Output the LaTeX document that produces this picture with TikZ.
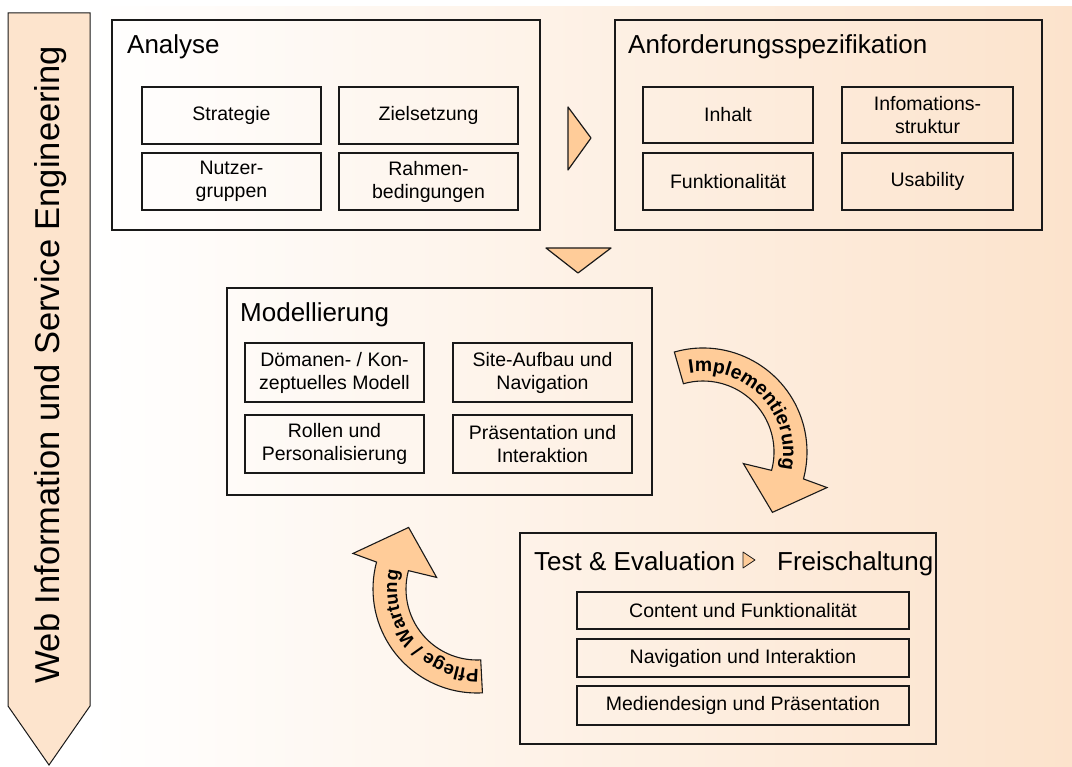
\documentclass[tikz,border=0pt]{standalone}
\usepackage{fontspec}
\setmainfont{Liberation Sans}
\usetikzlibrary{calc,decorations.text}

\definecolor{peach}{RGB}{252,227,204}
\definecolor{bannerfill}{RGB}{253,228,205}
\definecolor{arrowfill}{RGB}{255,204,153}
\definecolor{edge}{RGB}{25,25,25}

\begin{document}
\begin{tikzpicture}[x=1pt,y=-1pt,
  panel/.style={draw=edge, line width=1.4pt, inner sep=0pt},
  item/.style={draw=edge, line width=1.1pt, inner sep=0pt, align=center,
    font=\fontsize{19.5}{23}\selectfont},
  paneltitle/.style={anchor=base west, inner sep=0pt, font=\fontsize{26}{31}\selectfont},
  flowtri/.style={fill=arrowfill, draw=edge, line width=1.2pt, line join=round},
  bendarrow/.style={fill=arrowfill, draw=edge, line width=1.1pt, line join=miter},
  bendtext/.style={decorate, decoration={text along path, text align=center,
    text={#1}}},
]
\useasboundingbox (0,0) rectangle (1072,767);

% background wash
\shade[left color=white, right color=peach] (92,7) rectangle (1072,767);

% side banner
\filldraw[fill=bannerfill, draw=edge, line width=1pt]
  (8,13) -- (90,13) -- (90,706) -- (49,765) -- (8,706) -- cycle;
\node[rotate=90, inner sep=0pt, font=\fontsize{34.5}{40}\selectfont] (banner) at (51,365)
  {Web Information und Service Engineering};

% Analyse
\node[panel, minimum width=428, minimum height=210] (analyse) at (326,125) {};
\node[paneltitle] (tanalyse) at (127,54) {Analyse};
\node[item, minimum width=179, minimum height=57] (strat) at (231.5,115.5) {Strategie};
\node[item, minimum width=179, minimum height=57] (ziel) at (428.5,115.5) {Zielsetzung};
\node[item, minimum width=179, minimum height=57] (nutzer) at (231.5,181.5) {Nutzer-\\gruppen};
\node[item, minimum width=179, minimum height=57] (rahmen) at (428.5,181.5) {Rahmen-\\bedingungen};

% Anforderungsspezifikation
\node[panel, minimum width=427, minimum height=210] (anf) at (828.5,125) {};
\node[paneltitle] (tanf) at (628,54) {Anforderungsspezifikation};
\node[item, minimum width=170, minimum height=56] (inhalt) at (728,115) {Inhalt};
\node[item, minimum width=171, minimum height=56] (info) at (927.5,115) {Infomations-\\struktur};
\node[item, minimum width=170, minimum height=57] (funk) at (728,181.5) {Funktionalität};
\node[item, minimum width=171, minimum height=57] (usab) at (927.5,181.5) {Usability};

% flow triangles
\filldraw[flowtri] (568,107) -- (591,138) -- (568,170) -- cycle;
\filldraw[flowtri] (546,248) -- (611,248) -- (578,273) -- cycle;

% Modellierung
\node[panel, minimum width=425, minimum height=207] (modell) at (439.5,391.5) {};
\node[paneltitle] (tmodell) at (240,322) {Modellierung};
\node[item, minimum width=179, minimum height=59] (domaene) at (334.5,372.5) {Dömanen- / Kon-\\zeptuelles Modell};
\node[item, minimum width=179, minimum height=59] (site) at (542.5,372.5) {Site-Aufbau und\\Navigation};
\node[item, minimum width=179, minimum height=58] (rollen) at (334.5,444) {Rollen und\\Personalisierung};
\node[item, minimum width=179, minimum height=58] (praes) at (542.5,444) {Präsentation und\\Interaktion};

% Test & Evaluation
\node[panel, minimum width=416, minimum height=211] (test) at (728,638.5) {};
\node[paneltitle] (ttest) at (534,570) {Test \& Evaluation};
\coordinate (tt) at (743,552);
\filldraw[fill=arrowfill, draw=edge, line width=0.8pt, line join=round]
  (tt) -- ++(12,8) -- ++(-12,8) -- cycle;
\node[paneltitle] (tfrei) at (777,570) {Freischaltung};
\node[item, minimum width=332, minimum height=37] (content) at (743,610.5) {Content und Funktionalität};
\node[item, minimum width=332, minimum height=38] (navi) at (743,658) {Navigation und Interaktion};
\node[item, minimum width=332, minimum height=39] (medien) at (743,705.5) {Mediendesign und Präsentation};

% curved arrow: Implementierung
\coordinate (ci) at (703,452);
\filldraw[bendarrow]
  ($(ci)+(-106:104)$) arc[start angle=-106, end angle=15, radius=104]
  -- ($(ci)+(16:129)$) -- ($(ci)+(41:92)$) -- ($(ci)+(16:42)$)
  -- ($(ci)+(15:71)$) arc[start angle=15, end angle=-106, radius=71] -- cycle;
\path[bendtext={|\fontsize{19.5}{19.5}\selectfont\bfseries|Implementierung}]
  ($(ci)+(-104:80)$) arc[start angle=-104, end angle=17, radius=80];

% curved arrow: Pflege / Wartung
\coordinate (cp) at (477,589);
\filldraw[bendarrow]
  ($(cp)+(87:104)$) arc[start angle=87, end angle=195, radius=104]
  -- ($(cp)+(196:129)$) -- ($(cp)+(222:92)$) -- ($(cp)+(196:42)$)
  -- ($(cp)+(195:71)$) arc[start angle=195, end angle=87, radius=71] -- cycle;
\path[bendtext={|\fontsize{18.5}{18.5}\selectfont\bfseries|Pflege / Wartung}]
  ($(cp)+(86:80)$) arc[start angle=86, end angle=196, radius=80];
\end{tikzpicture}
\end{document}
